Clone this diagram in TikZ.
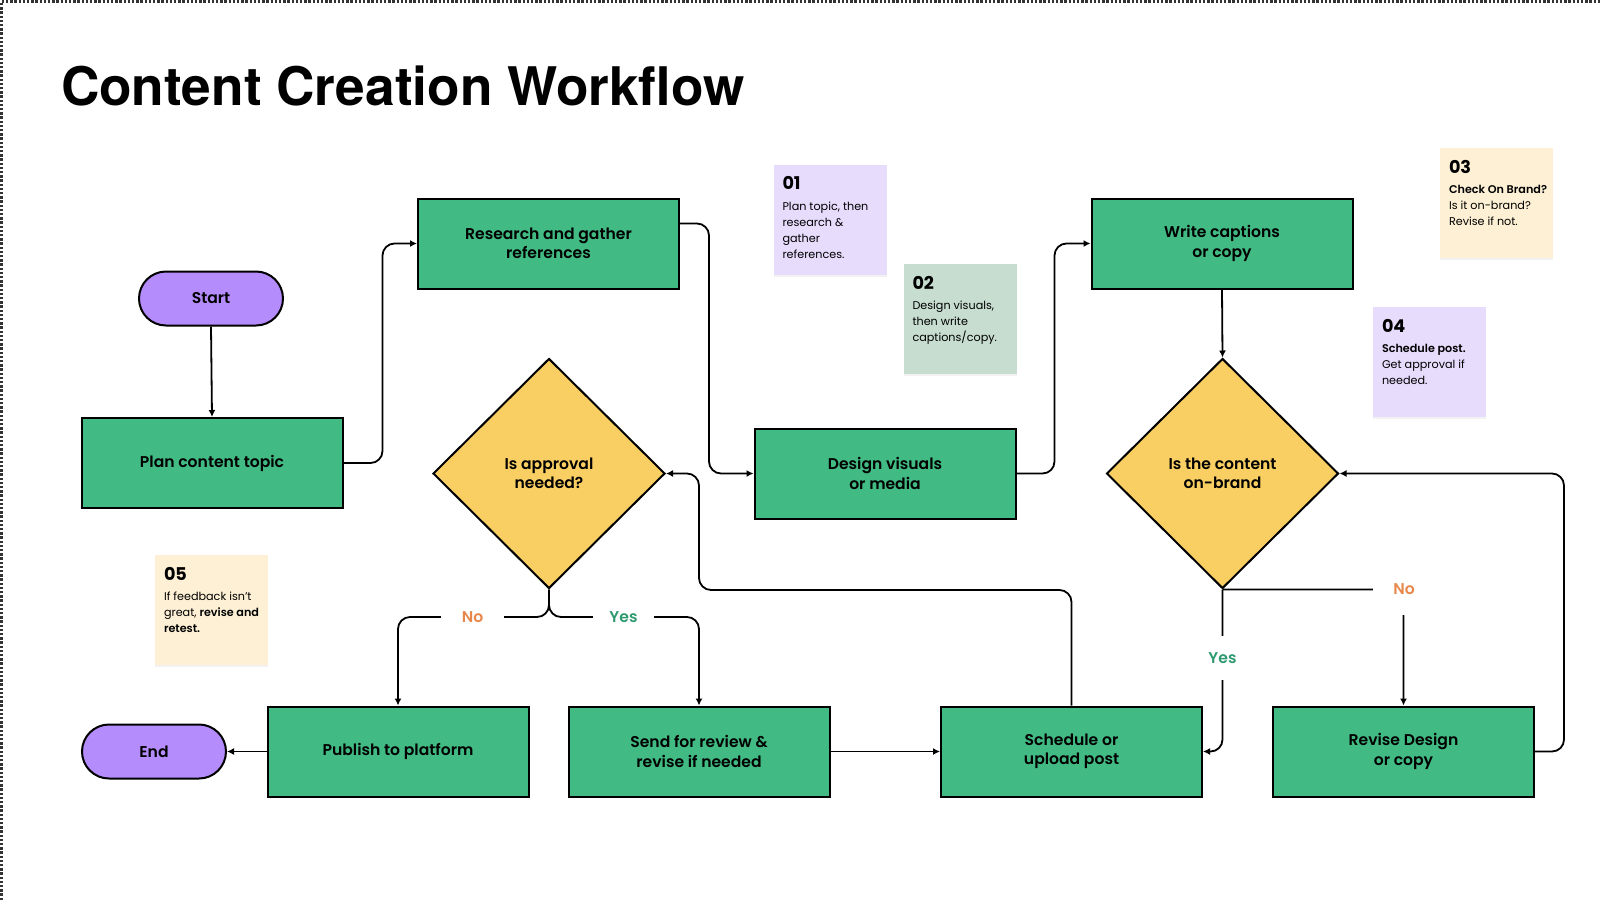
\documentclass[tikz,border=0pt]{standalone}
\usepackage{fontspec}
\setmainfont{Poppins}[BoldFont={Poppins SemiBold}]
\newfontfamily\titlefont{TeX Gyre Heros}
\newfontfamily\headfont{Poppins Bold}
\usetikzlibrary{shapes.geometric,arrows.meta,shadows}
\definecolor{boxgreen}{HTML}{41BB83}
\definecolor{choicegold}{HTML}{F9CF63}
\definecolor{pillpurple}{HTML}{B48CFB}
\definecolor{notelilac}{HTML}{E8DCFD}
\definecolor{notesage}{HTML}{C6DDD0}
\definecolor{notecream}{HTML}{FDF0D4}
\definecolor{nocolor}{HTML}{E8874B}
\definecolor{yescolor}{HTML}{2F9A70}
\tikzset{
  box/.style={draw, line width=1pt, fill=boxgreen, minimum width=130.5pt, minimum height=45pt, align=center, inner sep=0pt, font=\bfseries\fontsize{7.8}{9.6}\selectfont},
  choice/.style={draw, line width=1pt, fill=choicegold, diamond, minimum width=116pt, minimum height=115pt, inner sep=0pt, align=center, font=\bfseries\fontsize{7.8}{9.6}\selectfont},
  pill/.style={draw, line width=1pt, fill=pillpurple, rounded corners=13.5pt, minimum width=72pt, minimum height=27pt, font=\bfseries\fontsize{7.8}{9.6}\selectfont},
  note/.style={fill=#1, minimum width=56.5pt, minimum height=55pt, inner sep=0pt, drop shadow={shadow xshift=0pt, shadow yshift=-1pt, opacity=0.10}},
  notetext/.style={anchor=north west, inner sep=0pt, align=left, font=\fontsize{5.6}{8}\selectfont},
  conn/.style={line width=0.9pt, rounded corners=6pt, -{Latex[length=3.5pt,width=3.5pt]}},
  nolbl/.style={fill=white, text=nocolor, inner xsep=10.5pt, inner ysep=3pt, font=\bfseries\fontsize{7.8}{9.6}\selectfont},
  yeslbl/.style={fill=white, text=yescolor, inner xsep=8pt, inner ysep=3pt, font=\bfseries\fontsize{7.8}{9.6}\selectfont},
  frame/.style={line width=1.2pt, dash pattern=on 1.2pt off 0.9pt, black!80}
}
\newcommand{\notehead}[1]{{\headfont\fontsize{8.8}{10}\selectfont #1}\\[2.2pt]}
\begin{document}
\begin{tikzpicture}[x=0.5pt,y=-0.5pt]
\useasboundingbox (0,0) rectangle (1600,900);
\draw[frame] (1.5,900) -- (1.5,1.5) -- (1600,1.5);
\node (title) at (54,105)[anchor=base west, font=\titlefont\bfseries\fontsize{26.6}{30}\selectfont]{Content Creation Workflow};

\node (start) at (211,298.5)[pill]{Start};
\node (plan) at (212,463)[box]{Plan content topic};
\node (research) at (548.5,243.5)[box]{Research and gather\\references};
\node (design) at (885,473.5)[box]{Design visuals\\or media};
\node (write) at (1222,243.5)[box]{Write captions\\or copy};
\node (approval) at (549,473.5)[choice]{Is approval\\needed?};
\node (brand) at (1222.5,473.5)[choice]{Is the content\\on-brand};
\node (end) at (154,751.5)[pill]{End};
\node (publish) at (398,751.5)[box]{Publish to platform};
\node (send) at (699,751.5)[box]{Send for review \&\\revise if needed};
\node (schedule) at (1071.5,751.5)[box]{Schedule or\\upload post};
\node (revise) at (1403.5,751.5)[box]{Revise Design\\or copy};

\draw[conn] (start.south) -- (plan.north);
\draw[conn] (plan.east) -- ++(39,0) |- (research.west);
\draw[conn] ([yshift=10pt]research.east) -- ++(29,0) |- (design.west);
\draw[conn] (design.east) -- ++(38,0) |- (write.west);
\draw[conn] (write.south) -- (brand.north);
\draw[conn] (brand.south) |- (schedule.east);
\draw[conn] (brand.south) -| (revise.north);
\draw[conn] (revise.east) -- ++(29,0) |- (brand.east);
\draw[conn] (schedule.north) |- (699,590) |- (approval.east);
\draw[conn] (send.east) -- (schedule.west);
\draw[conn] (approval.south) |- (472,617) -| (publish.north);
\draw[conn] (approval.south) |- (623,617) -| (send.north);
\draw[conn] (publish.west) -- (end.east);

\node (no1) at (472.5,617)[nolbl]{No};
\node (yes1) at (623.5,617)[yeslbl]{Yes};
\node (yes2) at (1222.5,658)[yeslbl, inner xsep=4pt, inner ysep=8pt]{Yes};
\node (no2) at (1404,589)[nolbl, inner xsep=10pt, inner ysep=10pt]{No};

\node (n1) at (830,219.5)[note=notelilac]{};
\node (n1t) at ([xshift=4.5pt,yshift=-6pt]n1.north west)[notetext]{\notehead{01}Plan topic, then\\research \&\\gather\\references.};
\node (n2) at (960,319)[note=notesage]{};
\node (n2t) at ([xshift=4.5pt,yshift=-6pt]n2.north west)[notetext]{\notehead{02}Design visuals,\\then write\\captions/copy.};
\node (n3) at (1496.5,203)[note=notecream]{};
\node (n3t) at ([xshift=4.5pt,yshift=-6pt]n3.north west)[notetext]{\notehead{03}\textbf{Check On Brand?}\\Is it on-brand?\\Revise if not.};
\node (n4) at (1429.5,362)[note=notelilac]{};
\node (n4t) at ([xshift=4.5pt,yshift=-6pt]n4.north west)[notetext]{\notehead{04}\textbf{Schedule post.}\\Get approval if\\needed.};
\node (n5) at (211.5,610)[note=notecream]{};
\node (n5t) at ([xshift=4.5pt,yshift=-6pt]n5.north west)[notetext]{\notehead{05}If feedback isn't\\great, \textbf{revise and}\\\textbf{retest.}};
\end{tikzpicture}
\end{document}
